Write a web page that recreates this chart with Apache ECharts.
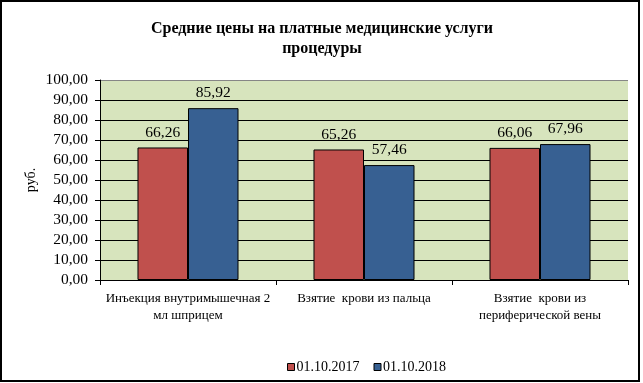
<!DOCTYPE html>
<html>
<head>
<meta charset="utf-8">
<script src="https://cdn.jsdelivr.net/npm/echarts@6/dist/echarts.min.js"></script>
<style>
html,body{margin:0;padding:0;background:#fff;}
#c{width:643px;height:383px;}
</style>
</head>
<body>
<div id="c"></div>
<script>
const categories = ['Инъекция внутримышечная 2\nмл шприцем', 'Взятие  крови из пальца', 'Взятие  крови из\nпериферической вены'];
const seriesNames = ['01.10.2017', '01.10.2018'];
const values2017 = [66.26, 65.26, 66.06];
const values2018 = [85.92, 57.46, 67.96];
const yMin = 0, yMax = 100, yStep = 10;

const FONT = '"Liberation Serif", "Times New Roman", serif';
const fmt = v => Number(v).toFixed(2).replace('.', ',');

const chart = echarts.init(document.getElementById('c'), null, {renderer: 'canvas'});
const splitColors = [];
for (let v = yMin; v <= yMax; v += yStep) splitColors.push(v === yMax ? '#868686' : '#000');

chart.setOption({
  animation: false,
  backgroundColor: '#fff',
  title: {
    text: 'Средние цены на платные медицинские услуги\nпроцедуры',
    left: 317, top: 14, textAlign: 'center',
    textStyle: {fontFamily: FONT, fontWeight: 'bold', fontSize: 16, color: '#000', lineHeight: 20}
  },
  legend: {
    bottom: 4, left: 282,
    itemWidth: 7, itemHeight: 7, itemGap: 14,
    icon: 'rect',
    itemStyle: {borderColor: '#000', borderWidth: 1},
    textStyle: {fontFamily: FONT, fontSize: 14, color: '#000', padding: [0, 0, 0, -3]},
    data: seriesNames
  },
  grid: {
    left: 100, right: 15, top: 80, bottom: 103,
    show: true, backgroundColor: '#D7E4BD', borderWidth: 0
  },
  xAxis: {
    type: 'category', data: categories,
    axisLine: {lineStyle: {color: '#000', width: 1}},
    axisTick: {show: true, length: 5, lineStyle: {color: '#000'}},
    axisLabel: {interval: 0, fontFamily: FONT, fontSize: 13, color: '#000', lineHeight: 17, margin: 10}
  },
  yAxis: {
    type: 'value', min: yMin, max: yMax, interval: yStep,
    name: 'руб.', nameLocation: 'middle', nameRotate: 90, nameGap: 62,
    nameMoveOverlap: false,
    nameTextStyle: {fontFamily: FONT, fontSize: 14, color: '#000'},
    axisLine: {show: true, lineStyle: {color: '#000', width: 1}},
    axisTick: {show: true, length: 5, lineStyle: {color: '#000'}},
    axisLabel: {fontFamily: FONT, fontSize: 15.5, color: '#000', margin: 12, formatter: fmt},
    splitLine: {show: true, lineStyle: {color: splitColors, width: 1}}
  },
  series: [
    {
      name: seriesNames[0], type: 'bar', data: values2017,
      barWidth: '28.7%', barGap: '0%',
      itemStyle: {color: '#C0504D', borderColor: '#000', borderWidth: 1},
      label: {show: true, position: 'top', distance: 7, formatter: p => fmt(p.value),
        fontFamily: FONT, fontSize: 15.5, color: '#000'}
    },
    {
      name: seriesNames[1], type: 'bar', data: values2018,
      barWidth: '28.7%', barGap: '0%',
      itemStyle: {color: '#376092', borderColor: '#000', borderWidth: 1},
      label: {show: true, position: 'top', distance: 7, formatter: p => fmt(p.value),
        fontFamily: FONT, fontSize: 15.5, color: '#000'}
    }
  ],
  graphic: [{
    type: 'rect', silent: true, z: 100,
    shape: {x: 1, y: 1, width: 638, height: 380},
    style: {fill: 'none', stroke: '#000', lineWidth: 2}
  }]
});
</script>
</body>
</html>
